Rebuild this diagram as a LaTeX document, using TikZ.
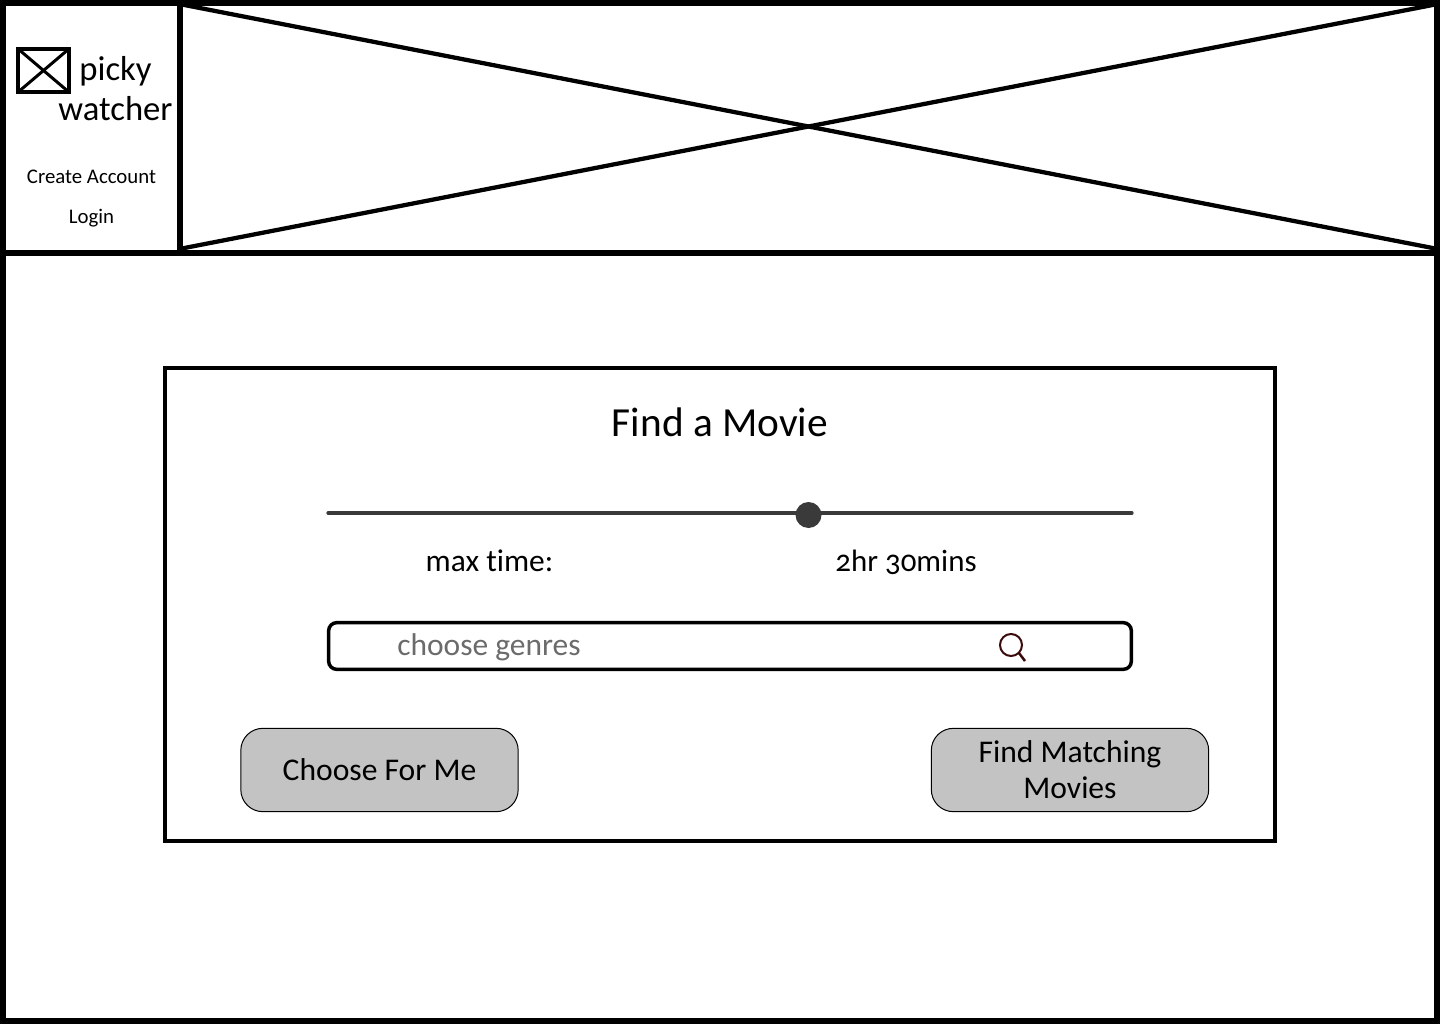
\documentclass[tikz,border=0pt]{standalone}
\usepackage{fontspec}
\setmainfont[Numbers=OldStyle,RawFeature=-liga]{Carlito}
\definecolor{btngrey}{HTML}{C3C3C3}
\definecolor{slidergrey}{HTML}{3A3A3A}
\definecolor{icondark}{HTML}{3B0A0A}
\tikzset{
	frame/.style={draw,line width=4.5pt,inner sep=0pt,outer sep=0pt},
	thick box/.style={draw,line width=3pt,inner sep=0pt,outer sep=0pt},
	cross/.style={line width=3.2pt},
	btn/.style={draw,fill=btngrey,line width=0.75pt,rounded corners=16.5pt,inner sep=0pt,outer sep=0pt,
		minimum width=208pt,minimum height=62.5pt,align=center,font=\fontsize{23.7}{27}\selectfont},
	txt/.style={inner sep=0pt,outer sep=0pt,anchor=base}
}
\begin{document}
\begin{tikzpicture}[x=0.75pt,y=-0.75pt]
	\useasboundingbox (0,0) rectangle (1440,1024);
	%Khung ngoai
	\node[frame,minimum width=1075.5pt,minimum height=763.5pt] (page) at (720,512) {};
	%Header
	\node[frame,minimum width=132.75pt,minimum height=187.5pt] (side) at (91.5,128) {};
	\node[inner sep=0pt,outer sep=0pt,minimum width=940pt,minimum height=183pt] (banner) at (808.5,126.5) {};
	\draw[line width=4.5pt] (side.south east) -- (page.east |- side.south);
	\draw[line width=4.5pt] (side.north east) -- (side.south east);
	\draw[cross] (banner.north west) -- (banner.south east);
	\draw[cross] (banner.south west) -- (banner.north east);
	%Logo
	\node[thick box,minimum width=38.25pt,minimum height=32.5pt] (logo) at (43.5,70.5) {};
	\draw[line width=2.25pt] (logo.north west) -- (logo.south east);
	\draw[line width=2.25pt] (logo.south west) -- (logo.north east);
	\node[txt,font=\fontsize{26}{30}\selectfont] (picky) at (115.5,81) {picky};
	\node[txt,font=\fontsize{26}{30}\selectfont] (watcher) at (115.5,120.5) {watcher};
	\node[txt,font=\fontsize{15.6}{18}\selectfont] (create) at (91.5,183) {Create Account};
	\node[txt,font=\fontsize{15.6}{18}\selectfont] (login) at (91.5,223) {Login};
	%Khung chinh
	\node[thick box,minimum width=832.5pt,minimum height=354.5pt] (panel) at (720,604.5) {};
	\node[txt,font=\fontsize{31}{34}\selectfont] (title) at (720,436) {Find a Movie};
	%Thanh truot
	\coordinate (sliderL) at (328,513);
	\coordinate (sliderR) at (1132,513);
	\draw[slidergrey,line width=2.4pt,line cap=round] (sliderL) -- (sliderR);
	\node[circle,fill=slidergrey,minimum size=19.5pt,inner sep=0pt] (knob) at (808.5,515) {};
	\node[txt,font=\fontsize{23.6}{27}\selectfont] (maxtime) at (489.5,571) {max time:};
	\node[txt,font=\fontsize{23.2}{27}\selectfont] (duration) at (906,571) {2hr 30mins};
	%Tim kiem
	\node[thick box,line width=2.6pt,rounded corners=6pt,minimum width=602pt,minimum height=35pt] (search) at (730,646) {};
	\node[txt,text=black!58,font=\fontsize{23.6}{27}\selectfont] (genres) at (489,655) {choose genres};
	\node[circle,draw=icondark,line width=1.5pt,minimum size=16.5pt,inner sep=0pt,outer sep=0pt] (lens) at (1011,645) {};
	\coordinate (handle) at (1025,661);
	\draw[icondark,line width=1.9pt] (lens.south east) -- (handle);
	%Nut bam
	\node[btn] (choose) at (379.5,770) {Choose For Me};
	\node[btn] (matching) at (1070,770) {Find Matching\\Movies};
\end{tikzpicture}
\end{document}
